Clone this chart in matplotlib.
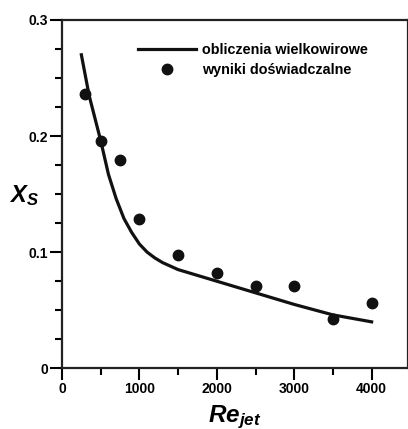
import matplotlib
matplotlib.use('Agg')
import matplotlib.pyplot as plt
from matplotlib.ticker import MultipleLocator

plt.rcParams['font.family'] = ['Liberation Sans', 'DejaVu Sans']
plt.rcParams['font.weight'] = 'bold'
plt.rcParams['mathtext.fontset'] = 'custom'
plt.rcParams['mathtext.bfit'] = 'Liberation Sans:italic:bold'
plt.rcParams['mathtext.rm'] = 'Liberation Sans:bold'

# LES curve
re_les = [250, 350, 500, 600, 700, 800, 900, 950, 1000, 1100, 1200, 1300, 1500, 1750,
          2000, 2500, 3000, 3500, 4000]
xs_les = [0.270, 0.235, 0.196, 0.167, 0.146, 0.129, 0.117, 0.112, 0.107, 0.100, 0.095,
          0.091, 0.085, 0.080, 0.075, 0.065, 0.055, 0.046, 0.040]

# experiments
re_exp = [300, 500, 750, 1000, 1500, 2000, 2500, 3000, 3500, 4000]
xs_exp = [0.236, 0.196, 0.179, 0.129, 0.098, 0.082, 0.071, 0.071, 0.0425, 0.056]

fig = plt.figure(figsize=(4.08, 4.29), dpi=100)
ax = fig.add_axes([0.152, 0.1415, 0.848, 0.812])

ax.plot(re_les, xs_les, color='#111111', lw=2.3, label='obliczenia wielkowirowe')
ax.plot(re_exp, xs_exp, 'o', color='#111111', ms=7.5, label='wyniki doświadczalne')

ax.set_xlim(0, 4470)
ax.set_ylim(0, 0.3)
ax.xaxis.set_major_locator(MultipleLocator(1000))
ax.xaxis.set_minor_locator(MultipleLocator(500))
ax.yaxis.set_minor_locator(MultipleLocator(0.025))
ax.set_yticks([0, 0.1, 0.2, 0.3])
ax.set_yticklabels(['0', '0.1', '0.2', '0.3'])

for s in ax.spines.values():
    s.set_linewidth(1.6)
    s.set_color('#222222')
ax.tick_params(which='major', direction='out', length=8.5, width=1.5, labelsize=10, pad=1.5)
ax.tick_params(which='minor', direction='out', length=5, width=1.5)
for lab in ax.get_xticklabels() + ax.get_yticklabels():
    lab.set_fontweight('bold')

ax.set_xlabel(r'$\mathbfit{Re_{jet}}$', fontsize=17.5, labelpad=5)
ax.set_ylabel(r'$\mathbfit{X_S}$', fontsize=17, rotation=0)
ax.yaxis.set_label_coords(-0.11, 0.46)

leg = ax.legend(loc='upper right', bbox_to_anchor=(0.90, 0.95), frameon=False,
                fontsize=10.4, handlelength=4.0, handletextpad=0.4,
                labelspacing=0.4, borderaxespad=0)
for t in leg.get_texts():
    t.set_fontweight('bold')

fig.savefig('out.png', dpi=100)
